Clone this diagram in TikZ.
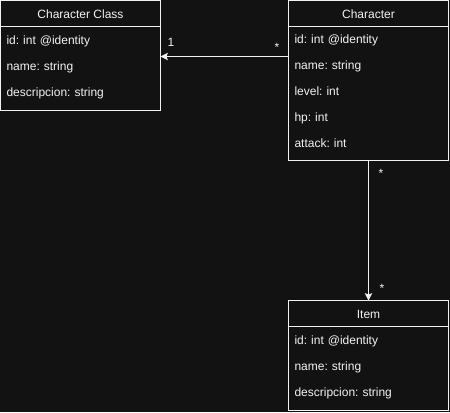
\documentclass[tikz,border=0pt]{standalone}
\usepackage{fontspec}
\setmainfont{Liberation Sans}
\usetikzlibrary{arrows.meta,positioning}
\definecolor{bg}{HTML}{121212}
\definecolor{ink}{HTML}{F2F2F2}
\newcommand\rowstrut{\rule[-8.25pt]{0pt}{19.5pt}}
\frenchspacing

\begin{document}
\begin{tikzpicture}[x=0.75pt,y=-0.75pt,font=\fontsize{9}{19.5}\selectfont,line width=0.75pt,
head/.style={draw=ink,fill=bg,text=ink,minimum width=120pt,minimum height=19.5pt,text height=8pt,text depth=0pt,inner sep=0pt,outer sep=0pt},
fields/.style={draw=ink,fill=bg,text=ink,text width=111pt,align=left,inner xsep=4.5pt,inner ysep=2.25pt,outer sep=0pt},
assoc/.style={-{Stealth[length=5.5pt,width=5.5pt,inset=1pt]},ink},
mult/.style={text=ink,anchor=base}]
 \fill[bg] (0,0) rectangle (450,412);
 \useasboundingbox (0,0) rectangle (450,412);
 \node[head,anchor=north west] (classhead) at (0.5,0.5) {Character Class};
 \node[fields,below=0pt of classhead] (classfields) {\rowstrut id: int @identity\\\rowstrut name: string\\\rowstrut descripcion: string};
 \node[head,anchor=north west] (charhead) at (288.5,0.5) {Character};
 \node[fields,inner ysep=1.5pt,below=0pt of charhead] (charfields) {\rowstrut id: int @identity\\\rowstrut name: string\\\rowstrut level: int\\\rowstrut hp: int\\\rowstrut attack: int};
 \node[head,anchor=north west] (itemhead) at (288.5,300.5) {Item};
 \node[fields,below=0pt of itemhead] (itemfields) {\rowstrut id: int @identity\\\rowstrut name: string\\\rowstrut descripcion: string};
 \draw[assoc] ([yshift=-22.5pt]charfields.north west) -- ([yshift=-22.5pt]classfields.north east)
  node[mult,at start,xshift=-8.6pt,yshift=3.9pt] {*}
  node[mult,at end,xshift=7.9pt,yshift=7.35pt] {1};
 \draw[assoc] (charfields.south) -- (itemhead.north)
  node[mult,at start,xshift=9.4pt,yshift=-13pt] {*}
  node[mult,at end,xshift=10.1pt,yshift=5.9pt] {*};
\end{tikzpicture}
\end{document}
